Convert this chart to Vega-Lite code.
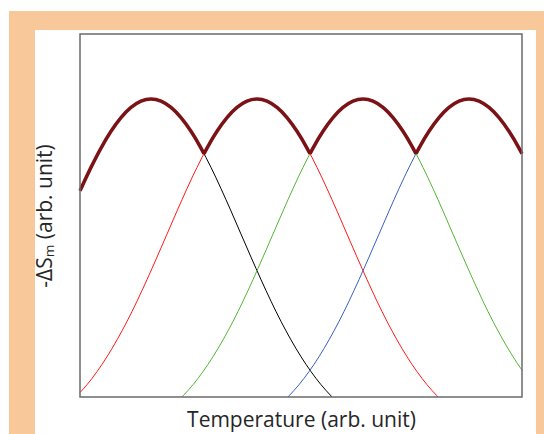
{
  "$schema": "https://vega.github.io/schema/vega-lite/v6.json",
  "width": 442,
  "height": 363,
  "autosize": {"type": "none"},
  "padding": {"left": 80, "top": 34, "right": 22, "bottom": 37},
  "background": "white",
  "config": {
    "font": "Open Sans",
    "view": {"stroke": null},
    "axis": {"domain": false, "ticks": false, "labels": false, "grid": false, "titleFont": "Open Sans", "titleFontSize": 21, "titleFontWeight": "normal", "titleColor": "#262626"},
    "axisX": {"titlePadding": 12},
    "axisY": {"titlePadding": 25}
  },
  "datasets": {
    "curves": [
      {"s":"black","x":0,"y":206.2},{"s":"black","x":11,"y":229.6},{"s":"black","x":21,"y":248.9},{"s":"black","x":31,"y":265.7},{"s":"black","x":41,"y":279.4},{"s":"black","x":51,"y":289.6},{"s":"black","x":61,"y":295.9},{"s":"black","x":71,"y":298},{"s":"black","x":81,"y":295.9},{"s":"black","x":91,"y":289.6},{"s":"black","x":101,"y":279.4},{"s":"black","x":111,"y":265.7},{"s":"black","x":121,"y":248.9},{"s":"black","x":131,"y":229.6},{"s":"black","x":141,"y":208.4},{"s":"black","x":151,"y":186.0},{"s":"black","x":161,"y":162.9},{"s":"black","x":171,"y":139.9},{"s":"black","x":181,"y":117.4},{"s":"black","x":191,"y":95.8},{"s":"black","x":201,"y":75.6},{"s":"black","x":211,"y":57.1},{"s":"black","x":221,"y":40.3},{"s":"black","x":231,"y":25.4},{"s":"black","x":241,"y":12.3},{"s":"black","x":251,"y":1.1},{"s":"black","x":252,"y":0},
      {"s":"red","x":0,"y":4.5},{"s":"red","x":7,"y":12.3},{"s":"red","x":17,"y":25.4},{"s":"red","x":27,"y":40.3},{"s":"red","x":37,"y":57.1},{"s":"red","x":47,"y":75.6},{"s":"red","x":57,"y":95.8},{"s":"red","x":67,"y":117.4},{"s":"red","x":77,"y":139.9},{"s":"red","x":87,"y":162.9},{"s":"red","x":97,"y":186.0},{"s":"red","x":107,"y":208.4},{"s":"red","x":117,"y":229.6},{"s":"red","x":127,"y":248.9},{"s":"red","x":137,"y":265.7},{"s":"red","x":147,"y":279.4},{"s":"red","x":157,"y":289.6},{"s":"red","x":167,"y":295.9},{"s":"red","x":177,"y":298},{"s":"red","x":187,"y":295.9},{"s":"red","x":197,"y":289.6},{"s":"red","x":207,"y":279.4},{"s":"red","x":217,"y":265.7},{"s":"red","x":227,"y":248.9},{"s":"red","x":237,"y":229.6},{"s":"red","x":247,"y":208.4},{"s":"red","x":257,"y":186.0},{"s":"red","x":267,"y":162.9},{"s":"red","x":277,"y":139.9},{"s":"red","x":287,"y":117.4},{"s":"red","x":297,"y":95.8},{"s":"red","x":307,"y":75.6},{"s":"red","x":317,"y":57.1},{"s":"red","x":327,"y":40.3},{"s":"red","x":337,"y":25.4},{"s":"red","x":347,"y":12.3},{"s":"red","x":357,"y":1.1},{"s":"red","x":358,"y":0},
      {"s":"green","x":102,"y":0},{"s":"green","x":103,"y":1.1},{"s":"green","x":113,"y":12.3},{"s":"green","x":123,"y":25.4},{"s":"green","x":133,"y":40.3},{"s":"green","x":143,"y":57.1},{"s":"green","x":153,"y":75.6},{"s":"green","x":163,"y":95.8},{"s":"green","x":173,"y":117.4},{"s":"green","x":183,"y":139.9},{"s":"green","x":193,"y":162.9},{"s":"green","x":203,"y":186.0},{"s":"green","x":213,"y":208.4},{"s":"green","x":223,"y":229.6},{"s":"green","x":233,"y":248.9},{"s":"green","x":243,"y":265.7},{"s":"green","x":253,"y":279.4},{"s":"green","x":263,"y":289.6},{"s":"green","x":273,"y":295.9},{"s":"green","x":283,"y":298},{"s":"green","x":293,"y":295.9},{"s":"green","x":303,"y":289.6},{"s":"green","x":313,"y":279.4},{"s":"green","x":323,"y":265.7},{"s":"green","x":333,"y":248.9},{"s":"green","x":343,"y":229.6},{"s":"green","x":353,"y":208.4},{"s":"green","x":363,"y":186.0},{"s":"green","x":373,"y":162.9},{"s":"green","x":383,"y":139.9},{"s":"green","x":393,"y":117.4},{"s":"green","x":403,"y":95.8},{"s":"green","x":413,"y":75.6},{"s":"green","x":423,"y":57.1},{"s":"green","x":433,"y":40.3},{"s":"green","x":442,"y":26.8},
      {"s":"blue","x":208,"y":0},{"s":"blue","x":209,"y":1.1},{"s":"blue","x":219,"y":12.3},{"s":"blue","x":229,"y":25.4},{"s":"blue","x":239,"y":40.3},{"s":"blue","x":249,"y":57.1},{"s":"blue","x":259,"y":75.6},{"s":"blue","x":269,"y":95.8},{"s":"blue","x":279,"y":117.4},{"s":"blue","x":289,"y":139.9},{"s":"blue","x":299,"y":162.9},{"s":"blue","x":309,"y":186.0},{"s":"blue","x":319,"y":208.4},{"s":"blue","x":329,"y":229.6},{"s":"blue","x":339,"y":248.9},{"s":"blue","x":349,"y":265.7},{"s":"blue","x":359,"y":279.4},{"s":"blue","x":369,"y":289.6},{"s":"blue","x":379,"y":295.9},{"s":"blue","x":389,"y":298},{"s":"blue","x":399,"y":295.9},{"s":"blue","x":409,"y":289.6},{"s":"blue","x":419,"y":279.4},{"s":"blue","x":429,"y":265.7},{"s":"blue","x":439,"y":248.9},{"s":"blue","x":442,"y":243.2}
    ],
    "envelope": [
      {"seg":1,"x":0,"y":206.2},{"seg":1,"x":11,"y":229.6},{"seg":1,"x":21,"y":248.9},{"seg":1,"x":31,"y":265.7},{"seg":1,"x":41,"y":279.4},{"seg":1,"x":51,"y":289.6},{"seg":1,"x":61,"y":295.9},{"seg":1,"x":71,"y":298},{"seg":1,"x":81,"y":295.9},{"seg":1,"x":91,"y":289.6},{"seg":1,"x":101,"y":279.4},{"seg":1,"x":111,"y":265.7},{"seg":1,"x":121,"y":248.9},{"seg":1,"x":124,"y":243.2},
      {"seg":2,"x":124,"y":243.2},{"seg":2,"x":127,"y":248.9},{"seg":2,"x":137,"y":265.7},{"seg":2,"x":147,"y":279.4},{"seg":2,"x":157,"y":289.6},{"seg":2,"x":167,"y":295.9},{"seg":2,"x":177,"y":298},{"seg":2,"x":187,"y":295.9},{"seg":2,"x":197,"y":289.6},{"seg":2,"x":207,"y":279.4},{"seg":2,"x":217,"y":265.7},{"seg":2,"x":227,"y":248.9},{"seg":2,"x":230,"y":243.2},
      {"seg":3,"x":230,"y":243.2},{"seg":3,"x":233,"y":248.9},{"seg":3,"x":243,"y":265.7},{"seg":3,"x":253,"y":279.4},{"seg":3,"x":263,"y":289.6},{"seg":3,"x":273,"y":295.9},{"seg":3,"x":283,"y":298},{"seg":3,"x":293,"y":295.9},{"seg":3,"x":303,"y":289.6},{"seg":3,"x":313,"y":279.4},{"seg":3,"x":323,"y":265.7},{"seg":3,"x":333,"y":248.9},{"seg":3,"x":336,"y":243.2},
      {"seg":4,"x":336,"y":243.2},{"seg":4,"x":339,"y":248.9},{"seg":4,"x":349,"y":265.7},{"seg":4,"x":359,"y":279.4},{"seg":4,"x":369,"y":289.6},{"seg":4,"x":379,"y":295.9},{"seg":4,"x":389,"y":298},{"seg":4,"x":399,"y":295.9},{"seg":4,"x":409,"y":289.6},{"seg":4,"x":419,"y":279.4},{"seg":4,"x":429,"y":265.7},{"seg":4,"x":439,"y":248.9},{"seg":4,"x":442,"y":243.2}
    ]
  },
  "layer": [
    {
      "data": {"values": [{}]},
      "mark": {"type": "rect", "color": "#F9C89A"},
      "encoding": {
        "x": {"datum": -71, "type": "quantitative", "scale": {"domain": [0, 442], "nice": false, "zero": false}, "title": "Temperature (arb. unit)", "axis": {"zindex": 1}},
        "x2": {"datum": 540},
        "y": {"datum": 386, "type": "quantitative", "scale": {"domain": [0, 363], "nice": false, "zero": false}, "title": "-ΔSₘ (arb. unit)", "axis": {"zindex": 1}},
        "y2": {"datum": -90}
      }
    },
    {
      "data": {"values": [{}]},
      "mark": {"type": "rect", "color": "white"},
      "encoding": {
        "x": {"datum": -45, "type": "quantitative", "scale": {"domain": [0, 442], "nice": false, "zero": false}, "title": "Temperature (arb. unit)", "axis": {"zindex": 1}},
        "x2": {"datum": 456},
        "y": {"datum": 367, "type": "quantitative", "scale": {"domain": [0, 363], "nice": false, "zero": false}, "title": "-ΔSₘ (arb. unit)", "axis": {"zindex": 1}},
        "y2": {"datum": -90}
      }
    },
    {
      "data": {"name": "curves"},
      "mark": {"type": "line", "interpolate": "monotone", "strokeWidth": 1},
      "encoding": {
        "x": {"field": "x", "type": "quantitative", "scale": {"domain": [0, 442], "nice": false, "zero": false}, "title": "Temperature (arb. unit)", "axis": {"zindex": 1}},
        "y": {"field": "y", "type": "quantitative", "scale": {"domain": [0, 363], "nice": false, "zero": false}, "title": "-ΔSₘ (arb. unit)", "axis": {"zindex": 1}},
        "color": {"field": "s", "type": "nominal", "scale": {"domain": ["black", "red", "green", "blue"], "range": ["#000000", "#FF1A1A", "#55B535", "#3A5FC8"]}, "legend": null}
      }
    },
    {
      "data": {"name": "envelope"},
      "mark": {"type": "line", "interpolate": "monotone", "strokeWidth": 3.5, "color": "#7B1215"},
      "encoding": {
        "x": {"field": "x", "type": "quantitative", "scale": {"domain": [0, 442], "nice": false, "zero": false}, "title": "Temperature (arb. unit)", "axis": {"zindex": 1}},
        "y": {"field": "y", "type": "quantitative", "scale": {"domain": [0, 363], "nice": false, "zero": false}, "title": "-ΔSₘ (arb. unit)", "axis": {"zindex": 1}},
        "detail": {"field": "seg", "type": "nominal"}
      }
    },
    {
      "data": {"values": [{}]},
      "mark": {"type": "rect", "fill": null, "fillOpacity": 0, "stroke": "#6a6a6a", "strokeWidth": 1.5},
      "encoding": {
        "x": {"datum": 0, "type": "quantitative", "scale": {"domain": [0, 442], "nice": false, "zero": false}, "title": "Temperature (arb. unit)", "axis": {"zindex": 1}},
        "x2": {"datum": 442},
        "y": {"datum": 363, "type": "quantitative", "scale": {"domain": [0, 363], "nice": false, "zero": false}, "title": "-ΔSₘ (arb. unit)", "axis": {"zindex": 1}},
        "y2": {"datum": 0}
      }
    }
  ]
}
